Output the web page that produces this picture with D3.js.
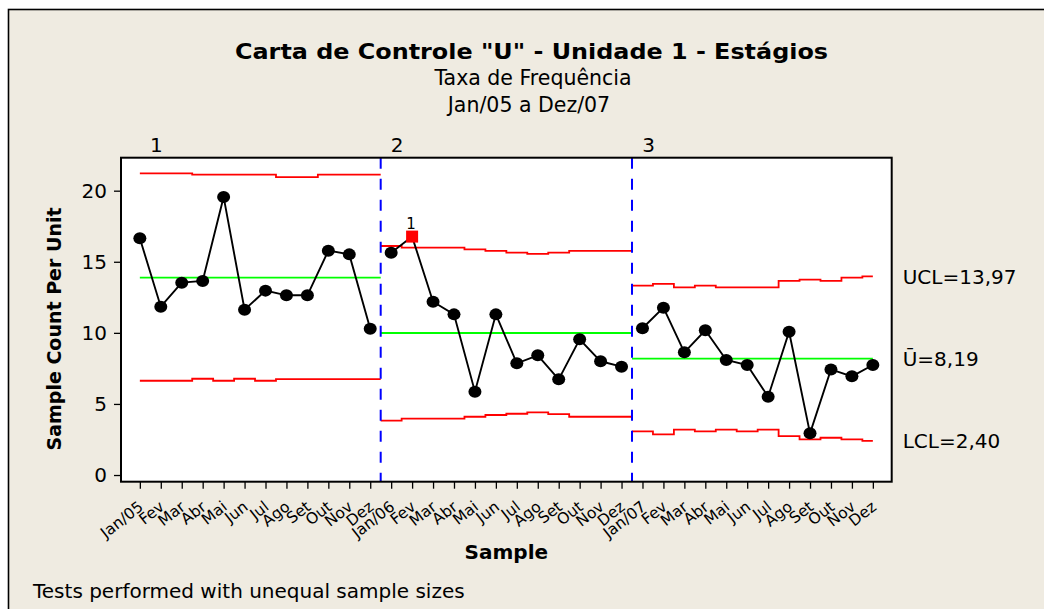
<!DOCTYPE html>
<html>
<head>
<meta charset="utf-8">
<script src="https://cdn.jsdelivr.net/npm/d3@7"></script>
<style>
  body { margin: 0; background: #fff; }
  text { font-family: 'DejaVu Sans', Verdana, sans-serif; fill: #000; }
</style>
</head>
<body>
<div id="chart"></div>
<script>
// sample labels (months)
var samples = ['Jan/05', 'Fev', 'Mar', 'Abr', 'Mai', 'Jun', 'Jul', 'Ago', 'Set', 'Out', 'Nov', 'Dez',
  'Jan/06', 'Fev', 'Mar', 'Abr', 'Mai', 'Jun', 'Jul', 'Ago', 'Set', 'Out', 'Nov', 'Dez',
  'Jan/07', 'Fev', 'Mar', 'Abr', 'Mai', 'Jun', 'Jul', 'Ago', 'Set', 'Out', 'Nov', 'Dez']

// stage of each sample
var stage = [1, 1, 1, 1, 1, 1, 1, 1, 1, 1, 1, 1,
  2, 2, 2, 2, 2, 2, 2, 2, 2, 2, 2, 2,
  3, 3, 3, 3, 3, 3, 3, 3, 3, 3, 3, 3]

var uValues = [16.65, 11.84, 13.53, 13.65, 19.56, 11.63, 12.97, 12.64, 12.64, 15.78, 15.52, 10.29,
  15.64, 16.77, 12.19, 11.30, 5.86, 11.30, 7.86, 8.42, 6.73, 9.55, 8.00, 7.62,
  10.32, 11.77, 8.63, 10.18, 8.09, 7.74, 5.51, 10.08, 2.93, 7.43, 6.94, 7.74]

var ucl = [21.22, 21.22, 21.22, 21.13, 21.13, 21.13, 21.13, 20.96, 20.96, 21.13, 21.13, 21.13,
  16.11, 15.99, 15.99, 15.99, 15.87, 15.76, 15.64, 15.55, 15.64, 15.76, 15.76, 15.76,
  13.32, 13.44, 13.20, 13.32, 13.20, 13.20, 13.20, 13.65, 13.74, 13.65, 13.88, 13.97]

var lcl = [6.63, 6.63, 6.63, 6.77, 6.63, 6.77, 6.63, 6.75, 6.75, 6.75, 6.75, 6.75,
  3.82, 3.96, 3.96, 3.96, 4.10, 4.22, 4.31, 4.41, 4.29, 4.10, 4.10, 4.10,
  3.07, 2.86, 3.19, 3.07, 3.19, 3.07, 3.19, 2.74, 2.51, 2.62, 2.51, 2.40]

var centers = [13.88, 9.99, 8.19]
var stageNames = ['1', '2', '3']
var flagged = [13]   // failed test 1
var yTicks = [0, 5, 10, 15, 20]
var limitLabels = ['UCL=13,97', '\u016A=8,19', 'LCL=2,40']

var width = 1044
var height = 609
var plot = {left: 121, right: 891.7, top: 157.7, bottom: 481.7}

var x = d3.scaleLinear().domain([-0.9, 35.9]).range([plot.left, plot.right])
var y = d3.scaleLinear().domain([-0.47, 22.32]).range([plot.bottom, plot.top])

var svg = d3.select('#chart').append('svg')
    .attr('width', width)
    .attr('height', height)
    .style('display', 'block')

svg.append('rect').attr('width', width).attr('height', height).attr('fill', '#fff')
svg.append('rect')
    .attr('x', 8.5).attr('y', 9.5)
    .attr('width', width + 50).attr('height', height + 50)
    .attr('fill', '#efebe1')
    .attr('stroke', '#000')
    .attr('stroke-width', 1.6)

// titles
svg.append('text')
    .attr('x', 531.5).attr('y', 59)
    .attr('text-anchor', 'middle')
    .attr('font-size', '21px')
    .attr('font-weight', 'bold')
    .attr('textLength', 593)
    .attr('lengthAdjust', 'spacingAndGlyphs')
    .text('Carta de Controle "U" - Unidade 1 - Estágios')

svg.append('text')
    .attr('x', 533).attr('y', 85)
    .attr('text-anchor', 'middle')
    .attr('font-size', '20.5px')
    .text('Taxa de Frequência')

svg.append('text')
    .attr('x', 529).attr('y', 112)
    .attr('text-anchor', 'middle')
    .attr('font-size', '20.5px')
    .text('Jan/05 a Dez/07')

// plot area
svg.append('rect')
    .attr('x', plot.left).attr('y', plot.top)
    .attr('width', plot.right - plot.left)
    .attr('height', plot.bottom - plot.top)
    .attr('fill', '#fff')

// stage extents in sample units
var stageExt = stageNames.map(function (s, k) {
  var idx = d3.range(samples.length).filter(function (i) { return stage[i] === k + 1 })
  var first = d3.min(idx), last = d3.max(idx)
  return {
    idx: idx,
    start: k === 0 ? first : first - 0.5,
    end: k === stageNames.length - 1 ? last : last + 0.5
  }
})

function stepPoints (vals, st) {
  var pts = []
  st.idx.forEach(function (i) {
    pts.push([Math.max(i - 0.5, st.start), vals[i]])
    pts.push([Math.min(i + 0.5, st.end), vals[i]])
  })
  return pts
}

var line = d3.line()
    .x(function (d) { return x(d[0]) })
    .y(function (d) { return y(d[1]) })

var g = svg.append('g')

stageExt.forEach(function (st, k) {
  g.append('path')
      .attr('d', line([[st.start, centers[k]], [st.end, centers[k]]]))
      .attr('fill', 'none')
      .attr('stroke', '#00ff00')
      .attr('stroke-width', 1.8)
  ;[ucl, lcl].forEach(function (vals) {
    g.append('path')
        .attr('d', line(stepPoints(vals, st)))
        .attr('fill', 'none')
        .attr('stroke', '#ff0000')
        .attr('stroke-width', 1.8)
  })
  // stage label
  svg.append('text')
      .attr('x', x(st.start) + 16.5)
      .attr('y', 151.5)
      .attr('text-anchor', 'middle')
      .attr('font-size', '20px')
      .text(stageNames[k])
})

// stage dividers
stageExt.slice(1).forEach(function (st) {
  g.append('line')
      .attr('x1', x(st.start)).attr('x2', x(st.start))
      .attr('y1', plot.top).attr('y2', plot.bottom)
      .attr('stroke', '#0000ff')
      .attr('stroke-width', 2)
      .attr('stroke-dasharray', '11,10')
})

// data line per stage
stageExt.forEach(function (st) {
  g.append('path')
      .attr('d', line(st.idx.map(function (i) { return [i, uValues[i]] })))
      .attr('fill', 'none')
      .attr('stroke', '#000')
      .attr('stroke-width', 1.9)
})

g.selectAll('.pt')
    .data(d3.range(samples.length).filter(function (i) { return flagged.indexOf(i) < 0 }))
  .enter().append('ellipse')
    .attr('class', 'pt')
    .attr('cx', function (i) { return x(i) })
    .attr('cy', function (i) { return y(uValues[i]) })
    .attr('rx', 6.5)
    .attr('ry', 6)
    .attr('fill', '#000')

flagged.forEach(function (i) {
  g.append('rect')
      .attr('x', x(i) - 6).attr('y', y(uValues[i]) - 6)
      .attr('width', 12).attr('height', 12)
      .attr('fill', '#ff0000')
  g.append('text')
      .attr('x', x(i) - 1).attr('y', y(uValues[i]) - 8)
      .attr('text-anchor', 'middle')
      .attr('font-size', '15px')
      .text('1')
})

// frame
svg.append('rect')
    .attr('x', plot.left).attr('y', plot.top)
    .attr('width', plot.right - plot.left)
    .attr('height', plot.bottom - plot.top)
    .attr('fill', 'none')
    .attr('stroke', '#000')
    .attr('stroke-width', 2)

// axes
var yAxis = svg.append('g')
    .attr('transform', 'translate(' + plot.left + ',0)')
    .call(d3.axisLeft(y).tickValues(yTicks).tickSize(7).tickPadding(7))
yAxis.select('.domain').remove()
yAxis.selectAll('line').attr('stroke-width', 1.3)
yAxis.selectAll('text').attr('font-size', '20px').attr('font-family', null)

var xAxis = svg.append('g')
    .attr('transform', 'translate(0,' + plot.bottom + ')')
    .call(d3.axisBottom(x).tickValues(d3.range(samples.length)).tickSize(7)
      .tickFormat(function (i) { return samples[i] }))
xAxis.select('.domain').remove()
xAxis.selectAll('line').attr('stroke-width', 1.3)
xAxis.selectAll('text')
    .attr('font-size', '15.5px')
    .attr('font-family', null)
    .attr('text-anchor', 'end')
    .attr('x', null).attr('y', null).attr('dy', null)
    .attr('transform', 'translate(4,27) rotate(-38)')

// limit labels on the right
var lastStage = stageExt[stageExt.length - 1]
var lastIdx = d3.max(lastStage.idx)
var labelVals = [ucl[lastIdx], centers[centers.length - 1], lcl[lastIdx]]
labelVals.forEach(function (v, k) {
  svg.append('text')
      .attr('x', plot.right + 11)
      .attr('y', y(v))
      .attr('dy', '0.37em')
      .attr('font-size', '20px')
      .text(limitLabels[k])
})

// axis titles
svg.append('text')
    .attr('transform', 'translate(61,' + 329 + ') rotate(-90)')
    .attr('text-anchor', 'middle')
    .attr('font-size', '19px')
    .attr('font-weight', 'bold')
    .text('Sample Count Per Unit')

svg.append('text')
    .attr('x', (plot.left + plot.right) / 2)
    .attr('y', 559)
    .attr('text-anchor', 'middle')
    .attr('font-size', '20px')
    .attr('font-weight', 'bold')
    .text('Sample')

svg.append('text')
    .attr('x', 33)
    .attr('y', 598)
    .attr('font-size', '20px')
    .text('Tests performed with unequal sample sizes')
</script>
</body>
</html>
